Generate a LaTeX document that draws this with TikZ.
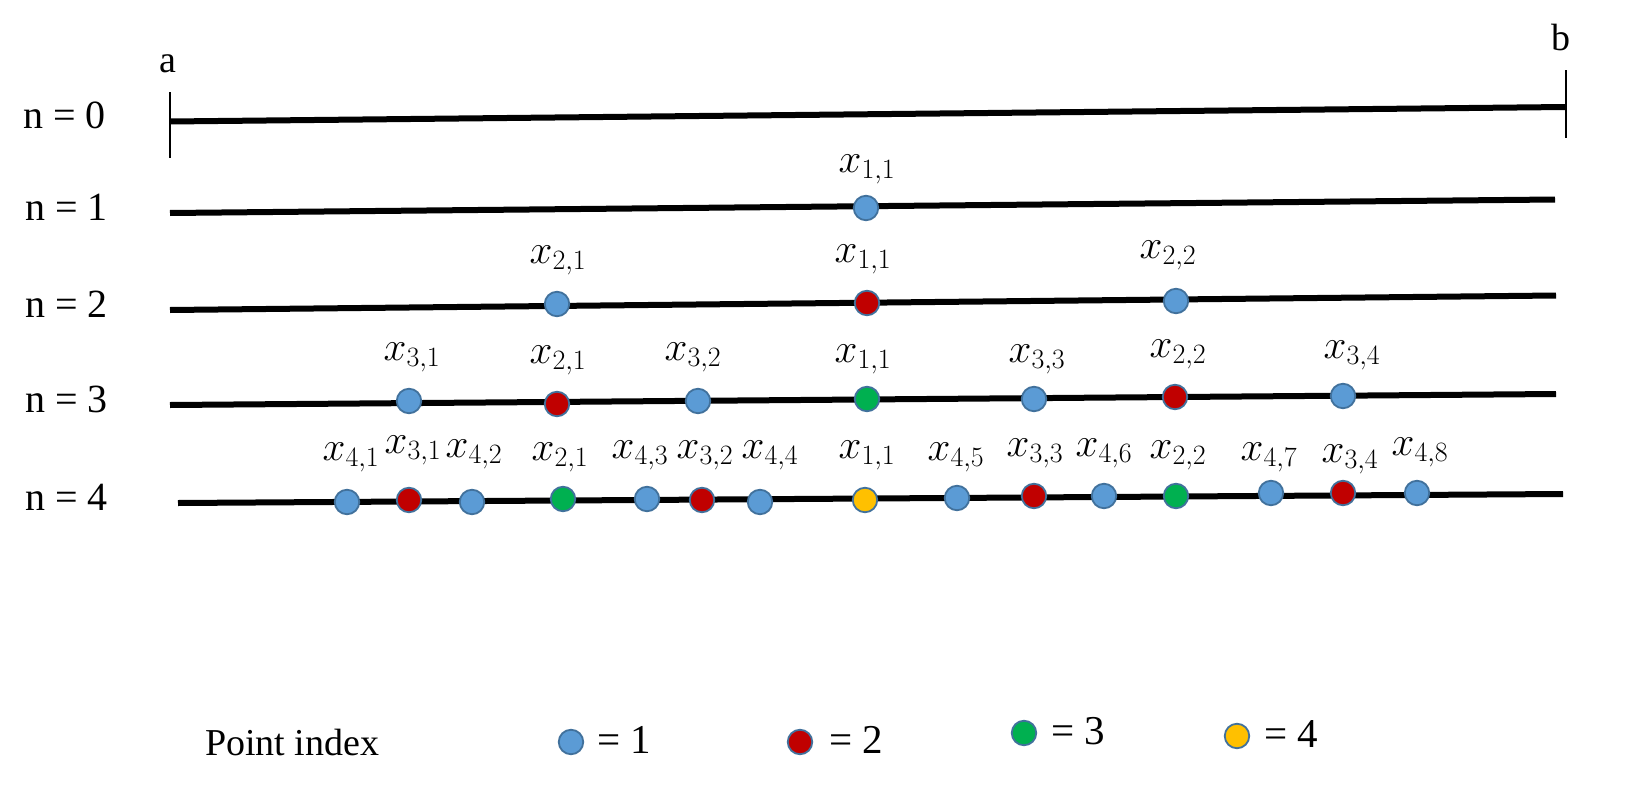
\RequirePackage{fix-cm}
\documentclass[tikz,border=0pt]{standalone}
\usepackage[no-math]{fontspec}
\setmainfont{Liberation Serif}
\DeclareMathSizes{41}{41}{28}{20}
\definecolor{pblue}{HTML}{5B9BD5}
\definecolor{pred}{HTML}{C00000}
\definecolor{pgreen}{HTML}{00B050}
\definecolor{pyellow}{HTML}{FFC000}
\definecolor{pedge}{HTML}{41719C}
\begin{document}
\begin{tikzpicture}[x=1pt,y=-1pt,
  axis/.style={line width=6pt},
  tickline/.style={line width=1.1pt},
  pt/.style={circle, draw=pedge, line width=1.8pt, minimum size=24.5pt, inner sep=0pt},
  pa/.style={pt, fill=pblue},
  pb/.style={pt, fill=pred},
  pc/.style={pt, fill=pgreen},
  pd/.style={pt, fill=pyellow},
  lbl/.style={anchor=base, inner sep=0pt, font=\fontsize{41}{44}\selectfont},
  rowlbl/.style={anchor=base west, inner sep=0pt, font=\fontsize{40}{44}\selectfont},
  endlbl/.style={anchor=base, inner sep=0pt, font=\fontsize{38}{42}\selectfont},
  legtxt/.style={anchor=base west, inner sep=0pt, font=\fontsize{41}{44}\selectfont}]
\useasboundingbox (0,0) rectangle (1642,787);

% ---------- row labels ----------
\node[rowlbl] (n0) at (23,128) {n = 0};
\node[rowlbl] (n1) at (25,220) {n = 1};
\node[rowlbl] (n2) at (25,317) {n = 2};
\node[rowlbl] (n3) at (25,412) {n = 3};
\node[rowlbl] (n4) at (25,510) {n = 4};

% ---------- n = 0 ----------
\coordinate (L0a) at (170,121.5);
\coordinate (L0b) at (1565,107);
\coordinate (Ta1) at (170,92);
\coordinate (Ta2) at (170,158);
\coordinate (Tb1) at (1566,70);
\coordinate (Tb2) at (1566,138);
\draw[axis] (L0a) -- (L0b);
\draw[tickline] (Ta1) -- (Ta2);
\draw[tickline] (Tb1) -- (Tb2);
\node[endlbl] (a) at (168,72) {a};
\node[endlbl] (b) at (1561,50) {b};

% ---------- n = 1 ----------
\coordinate (L1a) at (170,213);
\coordinate (L1b) at (1555,199.5);
\draw[axis] (L1a) -- (L1b);
\node[pa] (p11) at (866,208) {};
\node[lbl] (l11) at (867,172) {$x_{1,1}$};

% ---------- n = 2 ----------
\coordinate (L2a) at (170,310);
\coordinate (L2b) at (1556,295.5);
\draw[axis] (L2a) -- (L2b);
\node[pa] (p21) at (557,304) {};
\node[pb] (p22) at (867,303) {};
\node[pa] (p23) at (1176,301) {};
\node[lbl] (l21) at (558,263) {$x_{2,1}$};
\node[lbl] (l22) at (863,262) {$x_{1,1}$};
\node[lbl] (l23) at (1168,258) {$x_{2,2}$};

% ---------- n = 3 ----------
\coordinate (L3a) at (170,405);
\coordinate (L3b) at (1556,394);
\draw[axis] (L3a) -- (L3b);
\node[pa] (p31) at (409,401) {};
\node[pb] (p32) at (557,404) {};
\node[pa] (p33) at (698,401) {};
\node[pc] (p34) at (867,399) {};
\node[pa] (p35) at (1034,399) {};
\node[pb] (p36) at (1175,397) {};
\node[pa] (p37) at (1343,396) {};
\node[lbl] (l31) at (412,360) {$x_{3,1}$};
\node[lbl] (l32) at (558,363) {$x_{2,1}$};
\node[lbl] (l33) at (693,360) {$x_{3,2}$};
\node[lbl] (l34) at (863,362) {$x_{1,1}$};
\node[lbl] (l35) at (1037,362) {$x_{3,3}$};
\node[lbl] (l36) at (1178,357) {$x_{2,2}$};
\node[lbl] (l37) at (1352,358) {$x_{3,4}$};

% ---------- n = 4 ----------
\coordinate (L4a) at (178,503);
\coordinate (L4b) at (1563,494);
\draw[axis] (L4a) -- (L4b);
\node[pa] (p401) at (347,502) {};
\node[pb] (p402) at (409,500) {};
\node[pa] (p403) at (472,502) {};
\node[pc] (p404) at (563,499) {};
\node[pa] (p405) at (647,499) {};
\node[pb] (p406) at (702,500) {};
\node[pa] (p407) at (760,502) {};
\node[pd] (p408) at (865,500) {};
\node[pa] (p409) at (957,498) {};
\node[pb] (p410) at (1034,496) {};
\node[pa] (p411) at (1104,496) {};
\node[pc] (p412) at (1176,496) {};
\node[pa] (p413) at (1271,493) {};
\node[pb] (p414) at (1343,493) {};
\node[pa] (p415) at (1417,493) {};
\node[lbl] (l401) at (351,460) {$x_{4,1}$};
\node[lbl] (l402) at (413,453) {$x_{3,1}$};
\node[lbl] (l403) at (474,457) {$x_{4,2}$};
\node[lbl] (l404) at (560,460) {$x_{2,1}$};
\node[lbl] (l405) at (640,458) {$x_{4,3}$};
\node[lbl] (l406) at (705,458) {$x_{3,2}$};
\node[lbl] (l407) at (770,458) {$x_{4,4}$};
\node[lbl] (l408) at (867,458) {$x_{1,1}$};
\node[lbl] (l409) at (956,460) {$x_{4,5}$};
\node[lbl] (l410) at (1035,456) {$x_{3,3}$};
\node[lbl] (l411) at (1104,456) {$x_{4,6}$};
\node[lbl] (l412) at (1178,458) {$x_{2,2}$};
\node[lbl] (l413) at (1269,460) {$x_{4,7}$};
\node[lbl] (l414) at (1350,462) {$x_{3,4}$};
\node[lbl] (l415) at (1420,455) {$x_{4,8}$};

% ---------- legend ----------
\node[anchor=base west, inner sep=0pt, font=\fontsize{38}{42}\selectfont] (leg) at (205,755) {Point index};
\node[pa] (k1) at (571,742) {};
\node[legtxt] (t1) at (597,753) {= 1};
\node[pb] (k2) at (800,742) {};
\node[legtxt] (t2) at (829,753) {= 2};
\node[pc] (k3) at (1024,733) {};
\node[legtxt] (t3) at (1051,744) {= 3};
\node[pd] (k4) at (1237,736) {};
\node[legtxt] (t4) at (1264,747) {= 4};
\end{tikzpicture}
\end{document}
